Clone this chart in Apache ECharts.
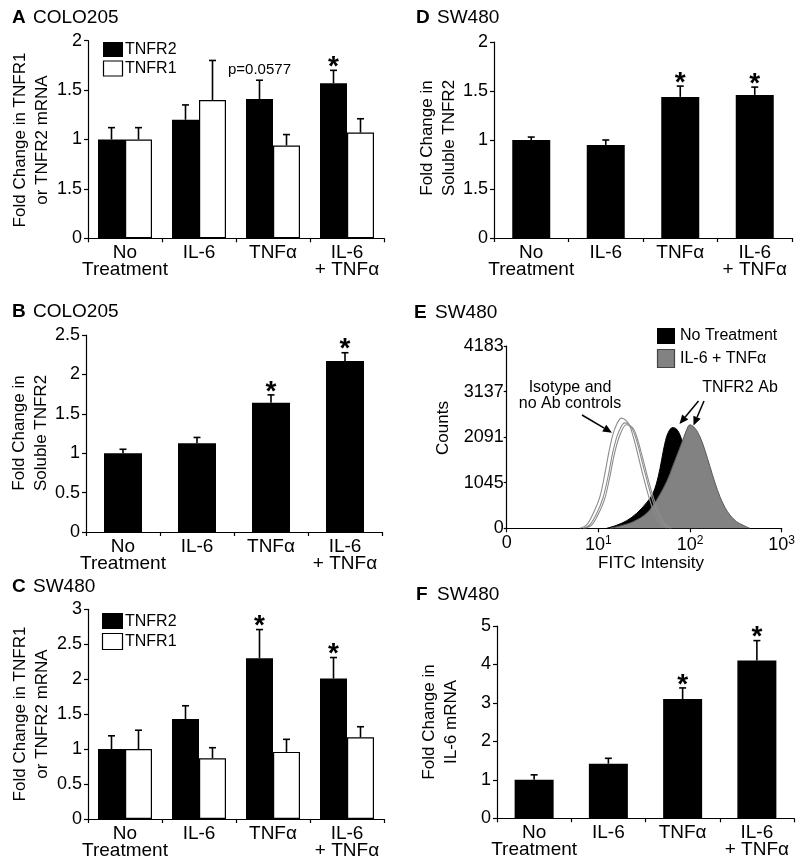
<!DOCTYPE html>
<html><head><meta charset="utf-8">
<script src="https://cdn.jsdelivr.net/npm/echarts@6/dist/echarts.min.js"></script>
<style>html,body{margin:0;padding:0;background:#fff}#c{width:800px;height:864px}</style>
</head><body><div id="c"></div>
<script>
// ---------------- DATA ----------------
const categories = ['No\nTreatment', 'IL-6', 'TNFα', 'IL-6\n+ TNFα'];

// Panel A: COLO205 mRNA
const aTNFR2 = [1.00, 1.20, 1.41, 1.57];
const aTNFR2Err = [0.12, 0.15, 0.19, 0.13];
const aTNFR1 = [1.00, 1.40, 0.94, 1.07];
const aTNFR1Err = [0.12, 0.40, 0.11, 0.14];
const aTNFR2Marks = ['', '', 'p=0.0577', '*'];
const aTickLabels = ['0', '1.5', '1', '1.5', '2'];

// Panel B: COLO205 soluble TNFR2
const bValues = [1.00, 1.125, 1.64, 2.17];
const bErr = [0.05, 0.075, 0.10, 0.105];
const bMarks = ['', '', '*', '*'];
const bTickLabels = ['0', '0.5', '1', '1.5', '2', '2.5'];

// Panel C: SW480 mRNA
const cTNFR2 = [1.00, 1.43, 2.30, 2.01];
const cTNFR2Err = [0.19, 0.19, 0.41, 0.30];
const cTNFR1 = [1.00, 0.87, 0.96, 1.17];
const cTNFR1Err = [0.27, 0.15, 0.18, 0.15];
const cTNFR2Marks = ['', '', '*', '*'];
const cTickLabels = ['0', '0.5', '1', '1.5', '2', '2.5', '3'];

// Panel D: SW480 soluble TNFR2
const dValues = [1.00, 0.95, 1.44, 1.46];
const dErr = [0.03, 0.05, 0.11, 0.08];
const dMarks = ['', '', '*', '*'];
const dTickLabels = ['0', '1.5', '1', '1.5', '2'];

// Panel E: SW480 flow cytometry histograms (FITC intensity, counts)
const eNoTreatX = [12.3, 15.8, 20.4, 26.2, 33.6, 39.7, 45.0, 49.0, 53.2, 57.9, 64.6, 71.4, 77.6, 84.4, 100, 128, 165, 230, 270];
const eNoTreatY = [0, 69, 175, 345, 589, 818, 1186, 1570, 1953, 2198, 2313, 2275, 2144, 1914, 1416, 726, 345, 69, 0];
const eIL6TnfX = [13.4, 17.2, 24.0, 33.6, 43.2, 55.6, 65.6, 80.9, 91.8, 99.8, 113, 128, 145, 165, 187, 212, 240, 272, 322, 380, 450];
const eIL6TnfY = [0, 53, 152, 345, 650, 1071, 1455, 1953, 2259, 2374, 2298, 2105, 1800, 1416, 1048, 726, 483, 306, 152, 69, 0];
const eIso1X = [6.3, 7.45, 8.8, 10.4, 11.8, 13.4, 15.2, 17.9, 21.2, 24.0, 27.3, 30.9, 35.0, 39.7, 47.0, 55.6];
const eIso1Y = [0, 76, 345, 726, 1264, 1875, 2298, 2528, 2413, 2105, 1646, 1186, 765, 421, 115, 0];
const eIso2X = [6.8, 8.0, 9.5, 11.2, 12.8, 14.5, 16.5, 19.4, 22.9, 26.0, 29.5, 33.4, 37.8, 42.9, 50.8, 60];
const eIso2Y = [0, 70, 320, 690, 1200, 1780, 2190, 2420, 2320, 2030, 1590, 1150, 740, 405, 110, 0];
const eIso3X = [7.1, 8.4, 9.9, 11.7, 13.3, 15.1, 17.2, 20.2, 24.0, 27.1, 30.8, 34.9, 39.5, 44.8, 53.1, 62.8];
const eIso3Y = [0, 68, 310, 670, 1170, 1740, 2140, 2375, 2290, 2000, 1570, 1130, 730, 400, 108, 0];
const eYTickLabels = ['0', '1045', '2091', '3137', '4183'];

// Panel F: SW480 IL-6 mRNA
const fValues = [1.00, 1.42, 3.10, 4.10];
const fErr = [0.13, 0.14, 0.29, 0.52];
const fMarks = ['', '', '*', '*'];
const fTickLabels = ['0', '1', '2', '3', '4', '5'];

// ---------------- CHART ----------------
const FONT = '"Liberation Sans", Arial, Helvetica, sans-serif';
const chart = echarts.init(document.getElementById('c'), null, {renderer: 'canvas'});

const grids = [
  {left: 88, top: 40.7, width: 296, height: 197.6},   // A
  {left: 86, top: 335, width: 296, height: 197},      // B
  {left: 88, top: 609.3, width: 296, height: 209.7},  // C
  {left: 494, top: 42, width: 298, height: 196},      // D
  {left: 506.7, top: 346, width: 275, height: 182.3}, // E
  {left: 497, top: 626, width: 297, height: 192.3}    // F
];

const axisLineStyle = {color: '#000', width: 1.2};

function catX(g) {
  return {
    type: 'category', gridIndex: g, data: categories,
    axisLine: {show: true, lineStyle: axisLineStyle},
    axisTick: {show: true, length: 4, lineStyle: {color: '#000', width: 1.2}},
    axisLabel: {color: '#000', fontSize: 19, lineHeight: 17, margin: 6, interval: 0, fontFamily: FONT},
    splitLine: {show: false}
  };
}
function valY(g, max, interval, labels) {
  return {
    type: 'value', gridIndex: g, min: 0, max: max, interval: interval,
    axisLine: {show: true, lineStyle: axisLineStyle},
    axisTick: {show: true, length: 4, lineStyle: {color: '#000', width: 1.2}},
    axisLabel: {color: '#000', fontSize: 18, margin: 6, fontFamily: FONT,
      formatter: function (v, i) { return labels[i] !== undefined ? labels[i] : ''; }},
    splitLine: {show: false}
  };
}

function errSeries(g, vals, errs, marks, offset) {
  return {
    type: 'custom', xAxisIndex: g, yAxisIndex: g, z: 5, silent: true,
    data: vals.map(function (v, i) { return [i, v, errs[i]]; }),
    renderItem: function (params, api) {
      const i = api.value(0), v = api.value(1), e = api.value(2);
      const b = api.coord([i, v]);
      const t = api.coord([i, v + e]);
      const x = b[0] + offset;
      const ch = [
        {type: 'line', shape: {x1: x, y1: b[1], x2: x, y2: t[1]}, style: {stroke: '#000', lineWidth: 1.6}},
        {type: 'line', shape: {x1: x - 3.5, y1: t[1], x2: x + 3.5, y2: t[1]}, style: {stroke: '#000', lineWidth: 1.6}}
      ];
      const m = marks ? marks[params.dataIndex] : '';
      if (m === '*') {
        ch.push({type: 'text', style: {text: '*', x: x, y: t[1] - 3, textAlign: 'center', textVerticalAlign: 'middle',
          font: 'bold 28px ' + FONT, fill: '#000'}});
      } else if (m) {
        ch.push({type: 'text', style: {text: m, x: x, y: t[1] - 10, textAlign: 'center', textVerticalAlign: 'middle',
          font: '15px ' + FONT, fill: '#000'}});
      }
      return {type: 'group', children: ch};
    }
  };
}

function bar(g, vals, width, white) {
  return {
    type: 'bar', xAxisIndex: g, yAxisIndex: g, data: vals, barWidth: width, barGap: '0%',
    itemStyle: white ? {color: '#fff', borderColor: '#000', borderWidth: 1.2} : {color: '#000'},
    silent: true
  };
}
function zip(xs, ys) { return xs.map(function (x, i) { return [x, ys[i]]; }); }

const series = [
  // A
  bar(0, aTNFR2, 27, false), bar(0, aTNFR1, 27, true),
  errSeries(0, aTNFR2, aTNFR2Err, aTNFR2Marks, -13.5),
  errSeries(0, aTNFR1, aTNFR1Err, null, 13.5),
  // B
  bar(1, bValues, 38, false), errSeries(1, bValues, bErr, bMarks, 0),
  // C
  bar(2, cTNFR2, 27, false), bar(2, cTNFR1, 27, true),
  errSeries(2, cTNFR2, cTNFR2Err, cTNFR2Marks, -13.5),
  errSeries(2, cTNFR1, cTNFR1Err, null, 13.5),
  // D
  bar(3, dValues, 38, false), errSeries(3, dValues, dErr, dMarks, 0),
  // E
  {type: 'line', xAxisIndex: 4, yAxisIndex: 4, data: zip(eNoTreatX, eNoTreatY), smooth: 0.35, symbol: 'none',
    lineStyle: {color: '#000', width: 1}, areaStyle: {color: '#000', opacity: 1}, silent: true, z: 2},
  {type: 'line', xAxisIndex: 4, yAxisIndex: 4, data: zip(eIL6TnfX, eIL6TnfY), smooth: 0.35, symbol: 'none',
    lineStyle: {color: '#5a5a5a', width: 1}, areaStyle: {color: '#828282', opacity: 1}, silent: true, z: 3},
  {type: 'line', xAxisIndex: 4, yAxisIndex: 4, data: zip(eIso1X, eIso1Y), smooth: 0.35, symbol: 'none',
    lineStyle: {color: '#8c8c8c', width: 1.1}, silent: true, z: 4},
  {type: 'line', xAxisIndex: 4, yAxisIndex: 4, data: zip(eIso2X, eIso2Y), smooth: 0.35, symbol: 'none',
    lineStyle: {color: '#8c8c8c', width: 1.1}, silent: true, z: 4},
  {type: 'line', xAxisIndex: 4, yAxisIndex: 4, data: zip(eIso3X, eIso3Y), smooth: 0.35, symbol: 'none',
    lineStyle: {color: '#8c8c8c', width: 1.1}, silent: true, z: 4},
  // F
  bar(5, fValues, 39, false), errSeries(5, fValues, fErr, fMarks, 0)
];

const xAxes = [catX(0), catX(1), catX(2), catX(3),
  {
    type: 'log', gridIndex: 4, logBase: 10, min: 1, max: 1000,
    axisLine: {show: true, lineStyle: axisLineStyle},
    axisTick: {show: true, length: 4, lineStyle: {color: '#000', width: 1.2}},
    minorTick: {show: false},
    splitLine: {show: false},
    axisLabel: {color: '#000', fontSize: 18, margin: 6, fontFamily: FONT,
      formatter: function (v) {
        const e = Math.round(Math.log10(v));
        return e === 0 ? '0' : '10{s|' + e + '}';
      },
      rich: {s: {fontSize: 12, fontFamily: FONT, color: '#000', verticalAlign: 'top', lineHeight: 22, padding: [0, 0, 8, 0]}}
    }
  },
  catX(5)];
const yAxes = [
  valY(0, 2, 0.5, aTickLabels),
  valY(1, 2.5, 0.5, bTickLabels),
  valY(2, 3, 0.5, cTickLabels),
  valY(3, 2, 0.5, dTickLabels),
  (function () { const y = valY(4, 4183, 1045.75, eYTickLabels); y.axisLabel.margin = 3; y.axisTick.length = 3; return y; })(),
  valY(5, 5, 1, fTickLabels)
];

// graphic helpers
function txt(x, y, text, font, opts) {
  opts = opts || {};
  return {type: 'text', x: x, y: y, rotation: opts.rot || 0, silent: true,
    style: {text: text, font: font, fill: '#000', textAlign: opts.align || 'left', textVerticalAlign: 'middle',
      lineHeight: opts.lh || undefined}};
}
function title(x, y, letter, name) {
  return [txt(x, y, letter, 'bold 19px ' + FONT), txt(x + 21, y, name, '19px ' + FONT)];
}
function yName(x, y, text) {
  return txt(x, y, text, '17px ' + FONT, {rot: Math.PI / 2, align: 'center', lh: 22});
}
function arrow(x1, y1, x2, y2) {
  const a = Math.atan2(y2 - y1, x2 - x1), L = 9, H = 4;
  const bx = x2 - L * Math.cos(a), by = y2 - L * Math.sin(a);
  const px = -Math.sin(a) * H, py = Math.cos(a) * H;
  return [
    {type: 'line', silent: true, shape: {x1: x1, y1: y1, x2: bx, y2: by}, style: {stroke: '#000', lineWidth: 1.5}},
    {type: 'polygon', silent: true, shape: {points: [[x2, y2], [bx + px, by + py], [bx - px, by - py]]}, style: {fill: '#000'}}
  ];
}

const graphics = [].concat(
  title(12, 18, 'A', 'COLO205'),
  title(12, 312, 'B', 'COLO205'),
  title(12, 587, 'C', 'SW480'),
  title(416, 18, 'D', 'SW480'),
  title(414, 313, 'E', 'SW480'),
  title(416, 595, 'F', 'SW480'),
  [
    yName(31, 140, 'Fold Change in TNFR1\nor TNFR2 mRNA'),
    yName(30, 433, 'Fold Change in\nSoluble TNFR2'),
    yName(31, 714, 'Fold Change in TNFR1\nor TNFR2 mRNA'),
    yName(438, 138, 'Fold Change in\nSoluble TNFR2'),
    yName(440, 722, 'Fold Change in\nIL-6 mRNA'),
    txt(443, 428, 'Counts', '17px ' + FONT, {rot: Math.PI / 2, align: 'center'}),
    txt(651, 563, 'FITC Intensity', '17px ' + FONT, {align: 'center'}),
    // legends A
    {type: 'rect', silent: true, shape: {x: 103, y: 42, width: 20, height: 15}, style: {fill: '#000'}},
    {type: 'rect', silent: true, shape: {x: 103.5, y: 61, width: 19, height: 15}, style: {fill: '#fff', stroke: '#000', lineWidth: 1.2}},
    txt(125, 50, 'TNFR2', '16px ' + FONT), txt(125, 68.5, 'TNFR1', '16px ' + FONT),
    // legends C
    {type: 'rect', silent: true, shape: {x: 102, y: 613, width: 21, height: 16}, style: {fill: '#000'}},
    {type: 'rect', silent: true, shape: {x: 102.5, y: 633.5, width: 20, height: 16}, style: {fill: '#fff', stroke: '#000', lineWidth: 1.2}},
    txt(125, 621.5, 'TNFR2', '16px ' + FONT), txt(125, 641.5, 'TNFR1', '16px ' + FONT),
    // legend E
    {type: 'rect', silent: true, shape: {x: 657, y: 328, width: 18, height: 16}, style: {fill: '#000'}},
    {type: 'rect', silent: true, shape: {x: 657.5, y: 349.5, width: 17, height: 18}, style: {fill: '#828282', stroke: '#444', lineWidth: 1.2}},
    txt(680, 336, 'No Treatment', '16px ' + FONT), txt(680, 358.5, 'IL-6 + TNFα', '16px ' + FONT),
    // annotations E
    txt(570, 395.5, 'Isotype and\nno Ab controls', '16px ' + FONT, {align: 'center', lh: 16}),
    txt(740, 388, 'TNFR2 Ab', '16px ' + FONT, {align: 'center'})
  ],
  arrow(582, 415, 612, 432.7),
  arrow(698.5, 401, 679.5, 424),
  arrow(704, 401, 693.5, 425.5)
);

chart.setOption({
  animation: false,
  backgroundColor: '#fff',
  textStyle: {fontFamily: FONT},
  grid: grids.map(function (g) { return Object.assign({containLabel: false, outerBoundsMode: 'none'}, g); }),
  xAxis: xAxes,
  yAxis: yAxes,
  series: series,
  graphic: graphics
});
</script>
</body></html>
